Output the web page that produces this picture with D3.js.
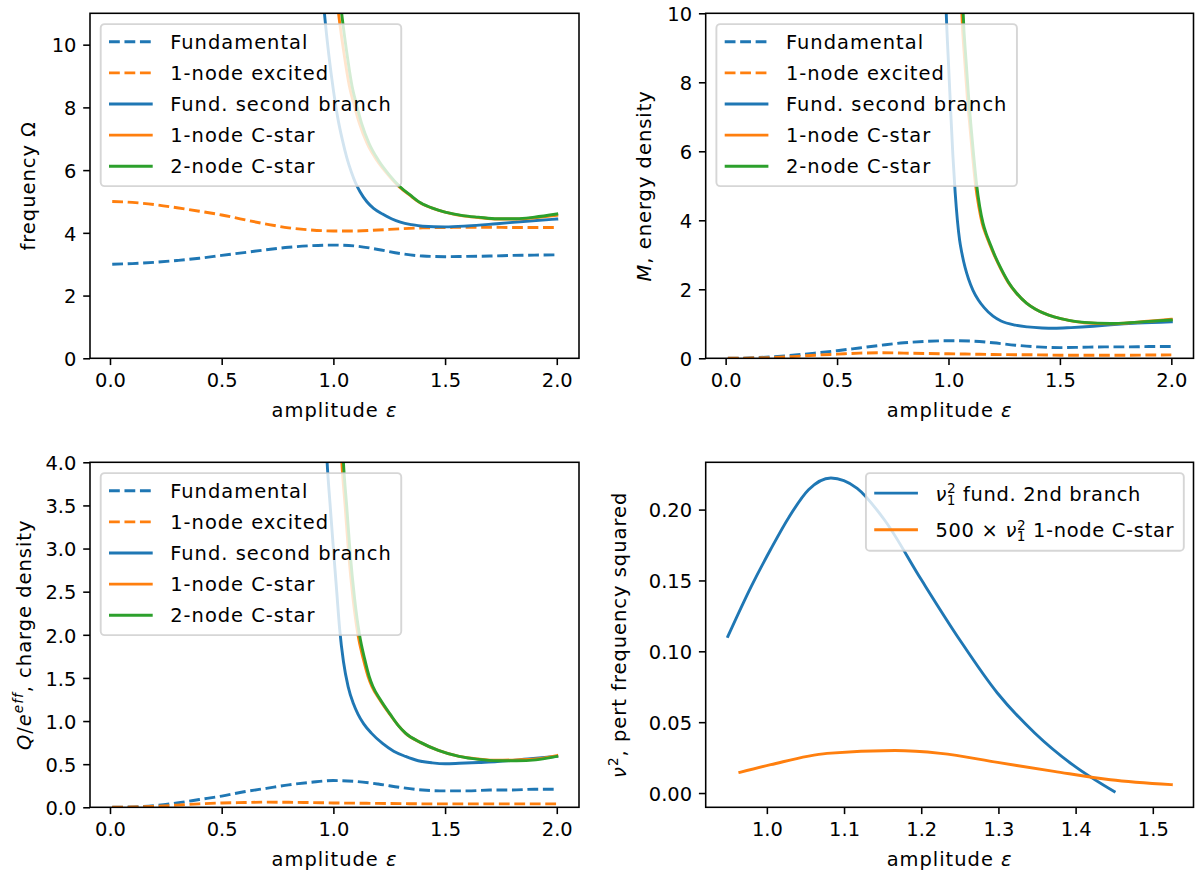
<!DOCTYPE html>
<html><head><meta charset="utf-8">
<script src="https://cdn.jsdelivr.net/npm/d3@7"></script>
<style>
body{margin:0;background:#fff}
svg{display:block}
text{font-family:"DejaVu Sans",sans-serif;fill:#000}
</style>
</head><body>
<svg id="chart" width="1195" height="871"></svg>
<script>
// ---------------- data ----------------
const epsGrid = [0.01,0.1,0.2,0.3,0.4,0.5,0.6,0.7,0.8,0.9,1.0,1.1,1.2,1.3,1.4,1.5,1.6,1.7,1.8,1.9,2.0];

const freqFund = [3.00,3.02,3.06,3.12,3.19,3.28,3.37,3.46,3.54,3.59,3.61,3.58,3.47,3.34,3.26,3.24,3.25,3.26,3.28,3.29,3.30];
const freqExc  = [5.00,4.97,4.90,4.80,4.69,4.57,4.42,4.28,4.16,4.09,4.06,4.06,4.09,4.13,4.16,4.17,4.18,4.18,4.17,4.17,4.17];
const freqBranchX = [0.955,0.960,0.980,1.000,1.020,1.040,1.060,1.080,1.100,1.120,1.150,1.180,1.220,1.260,1.300,1.350,1.400,1.500,1.600,1.730,1.850,2.000];
const freqBranchY = [11.4,11.0,9.65,8.55,7.65,6.97,6.40,5.95,5.58,5.30,4.99,4.78,4.60,4.45,4.34,4.26,4.21,4.19,4.22,4.29,4.36,4.44];
const freqCstar1X = [1.020,1.023,1.047,1.071,1.094,1.116,1.151,1.196,1.245,1.293,1.342,1.390,1.449,1.500,1.580,1.649,1.734,1.820,1.900,2.000];
const freqCstar1Y = [11.2,11.01,9.75,8.70,8.05,7.50,6.85,6.30,5.85,5.48,5.20,4.95,4.77,4.66,4.54,4.49,4.44,4.44,4.48,4.56];
const freqCstar2X = [1.034,1.037,1.060,1.083,1.105,1.126,1.160,1.203,1.250,1.297,1.345,1.392,1.450,1.500,1.580,1.649,1.734,1.820,1.900,2.000];
const freqCstar2Y = [11.2,11.01,9.75,8.70,8.05,7.50,6.85,6.30,5.85,5.48,5.20,4.95,4.77,4.66,4.55,4.50,4.45,4.45,4.50,4.60];

const massFund = [0.00,0.01,0.04,0.09,0.15,0.22,0.30,0.38,0.45,0.49,0.51,0.50,0.45,0.38,0.33,0.31,0.32,0.33,0.33,0.34,0.34];
const massExc  = [0.00,0.005,0.02,0.05,0.09,0.12,0.15,0.16,0.15,0.14,0.13,0.12,0.11,0.105,0.10,0.09,0.09,0.09,0.09,0.095,0.10];
const massBranchX = [0.988,0.990,1.000,1.010,1.020,1.030,1.040,1.050,1.060,1.075,1.090,1.110,1.134,1.160,1.200,1.236,1.300,1.355,1.420,1.474,1.550,1.650,1.728,1.850,2.000];
const massBranchY = [10.4,10.0,8.55,7.15,5.85,4.80,4.00,3.42,3.05,2.62,2.30,1.97,1.69,1.47,1.22,1.08,0.96,0.91,0.88,0.87,0.89,0.93,0.97,1.02,1.06];
const massCstar1X = [1.058,1.060,1.072,1.084,1.095,1.107,1.121,1.136,1.151,1.167,1.182,1.208,1.234,1.268,1.303,1.350,1.389,1.430,1.474,1.540,1.610,1.728,1.850,2.000];
const massCstar1Y = [10.4,10.0,8.70,7.60,6.80,5.95,5.05,4.40,3.92,3.60,3.35,2.95,2.60,2.20,1.90,1.60,1.43,1.30,1.20,1.10,1.03,1.00,1.05,1.13];
const massCstar2X = [1.064,1.066,1.078,1.090,1.100,1.112,1.126,1.140,1.155,1.170,1.185,1.210,1.236,1.270,1.304,1.350,1.389,1.430,1.474,1.540,1.610,1.728,1.850,2.000];
const massCstar2Y = [10.4,10.0,8.70,7.60,6.80,5.95,5.05,4.40,3.92,3.60,3.35,2.95,2.60,2.20,1.90,1.60,1.43,1.30,1.20,1.10,1.04,1.01,1.05,1.11];

const chargeFund = [0.00,0.005,0.02,0.05,0.09,0.13,0.18,0.22,0.26,0.29,0.31,0.30,0.27,0.23,0.20,0.19,0.19,0.20,0.20,0.21,0.21];
const chargeExc  = [0.00,0.003,0.01,0.025,0.04,0.05,0.055,0.06,0.058,0.055,0.05,0.048,0.045,0.043,0.04,0.04,0.04,0.04,0.04,0.04,0.04];
const chargeBranchX = [0.970,0.972,0.985,1.000,1.015,1.028,1.045,1.066,1.090,1.110,1.135,1.170,1.220,1.270,1.323,1.380,1.443,1.500,1.563,1.650,1.734,1.870,2.000];
const chargeBranchY = [4.1,4.0,3.52,3.00,2.50,2.07,1.69,1.40,1.20,1.08,0.97,0.86,0.74,0.65,0.59,0.54,0.515,0.505,0.51,0.52,0.53,0.56,0.59];
const chargeCstar1X = [1.036,1.038,1.053,1.068,1.088,1.110,1.134,1.155,1.173,1.207,1.252,1.290,1.322,1.391,1.470,1.563,1.650,1.734,1.820,1.906,2.000];
const chargeCstar1Y = [4.1,4.0,3.48,2.95,2.42,2.00,1.72,1.52,1.40,1.25,1.08,0.95,0.86,0.75,0.66,0.59,0.56,0.545,0.55,0.56,0.60];
const chargeCstar2X = [1.043,1.045,1.060,1.075,1.095,1.117,1.140,1.160,1.177,1.210,1.254,1.290,1.323,1.392,1.470,1.563,1.650,1.734,1.820,1.906,2.000];
const chargeCstar2Y = [4.1,4.0,3.48,2.95,2.42,2.00,1.72,1.52,1.40,1.25,1.08,0.95,0.86,0.75,0.66,0.59,0.555,0.54,0.54,0.55,0.59];

const nuBranchX = [0.9495,0.980,1.005,1.029,1.054,1.083,1.117,1.152,1.2,1.25,1.2986,1.347,1.396,1.45];
const nuBranchY = [0.1105,0.146,0.172,0.195,0.214,0.2223,0.215,0.193,0.1506,0.108,0.0706,0.0424,0.020,0.001];
const nuCstarX = [0.965,1.005,1.078,1.166,1.225,1.299,1.372,1.445,1.524];
const nuCstarY = [0.0146,0.020,0.028,0.030,0.028,0.0216,0.0153,0.0094,0.0059];

const epsTicks = [0,0.5,1.0,1.5,2.0];
const freqTicks = [0,2,4,6,8,10];
const massTicks = [0,2,4,6,8,10];
const chargeTicks = [0,0.5,1.0,1.5,2.0,2.5,3.0,3.5,4.0];
const nuTicks = [0,0.05,0.10,0.15,0.20];
const nuXTicks = [1.0,1.1,1.2,1.3,1.4,1.5];

const seriesLabels = ["Fundamental","1-node excited","Fund. second branch","1-node C-star","2-node C-star"];
const nuLabels = [
  [{t:"ν",i:1},{t:"2",sup:1},{t:"1",sub:1},{t:" fund. 2nd branch"}],
  [{t:"500 × "},{t:"ν",i:1},{t:"2",sup:1},{t:"1",sub:1},{t:" 1-node C-star"}]
];
const xLabel = [{t:"amplitude "},{t:"ε",i:1}];
const yLabels = [
  [{t:"frequency Ω"}],
  [{t:"M",i:1},{t:", energy density"}],
  [{t:"Q",i:1},{t:"/"},{t:"e",i:1},{t:"eff",i:1,sup:1},{t:", charge density"}],
  [{t:"ν",i:1},{t:"2",sup:1},{t:", pert frequency squared"}]
];

// ---------------- rendering ----------------
const C = {blue:"#1f77b4", orange:"#ff7f0e", green:"#2ca02c"};
const FS = 19.44, LW = 2.9, DASH = "10.8,4.67", LS = "1px";
const svg = d3.select("#chart");
const zip = (xs, ys) => xs.map((x,i)=>[x, ys[i]]);
function padExtent(arrs){
  const all = arrs.flat();
  const lo = d3.min(all), hi = d3.max(all), p = (hi-lo)*0.05;
  return [lo-p, hi+p];
}

function richText(sel, parts){
  let shifted = 0;
  parts.forEach(p=>{
    const ts = sel.append("tspan").text(p.t);
    if(p.i) ts.attr("font-style","italic");
    if(p.sup){
      ts.attr("font-size", FS*0.7).attr("dy", -7.7 - shifted); shifted = -7.7;
    } else if(p.sub){
      const w = 0.636*FS*0.7 + 1;
      ts.attr("font-size", FS*0.7).attr("dx", -w).attr("dy", 11.7); shifted += 11.7;
    } else {
      if(shifted !== 0){ ts.attr("dy", -shifted); shifted = 0; }
    }
  });
  return sel;
}

let clipId = 0;
function panel(cfg){
  const g = svg.append("g");
  const xs = d3.scaleLinear().domain(cfg.xdom).range([cfg.left, cfg.right]);
  const ys = d3.scaleLinear().domain(cfg.ydom).range([cfg.bottom, cfg.top]);
  const id = "clip"+(clipId++);
  svg.append("clipPath").attr("id",id).append("rect")
    .attr("x",cfg.left).attr("y",cfg.top).attr("width",cfg.right-cfg.left).attr("height",cfg.bottom-cfg.top);
  const line = d3.line().x(d=>xs(d[0])).y(d=>ys(d[1])).curve(d3.curveMonotoneX);
  const lg = g.append("g").attr("clip-path",`url(#${id})`);
  cfg.series.forEach(s=>{
    lg.append("path").attr("d", line(s.pts)).attr("fill","none")
      .attr("stroke", s.color).attr("stroke-width", LW)
      .attr("stroke-dasharray", s.dash ? DASH : null).attr("stroke-linecap", s.dash?"butt":"square")
      .attr("stroke-linejoin","round");
  });
  // axes
  const ax = g.append("g").attr("transform",`translate(0,${cfg.bottom})`)
    .call(d3.axisBottom(xs).tickValues(cfg.xticks).tickFormat(d3.format(".1f")).tickSize(6.8).tickPadding(6.8).tickSizeOuter(0));
  ax.select(".domain").remove();
  ax.selectAll(".tick line").attr("stroke","#000").attr("stroke-width",1.56);
  ax.selectAll("text").attr("font-size",FS).attr("font-family","DejaVu Sans").attr("dy","0.9em").attr("y",6.8+6.8-2.5);
  const ay = g.append("g").attr("transform",`translate(${cfg.left},0)`)
    .call(d3.axisLeft(ys).tickValues(cfg.yticks).tickFormat(cfg.yfmt).tickSize(6.8).tickPadding(6.8).tickSizeOuter(0));
  ay.select(".domain").remove();
  ay.selectAll(".tick line").attr("stroke","#000").attr("stroke-width",1.56);
  ay.selectAll("text").attr("font-size",FS).attr("font-family","DejaVu Sans").attr("dy","0.37em");
  ax.attr("font-family",null); ay.attr("font-family",null);
  // frame
  g.append("rect").attr("x",cfg.left).attr("y",cfg.top).attr("width",cfg.right-cfg.left).attr("height",cfg.bottom-cfg.top)
    .attr("fill","none").attr("stroke","#000").attr("stroke-width",1.56);
  // labels
  richText(g.append("text").attr("x",(cfg.left+cfg.right)/2).attr("y",cfg.bottom+58.4)
    .attr("text-anchor","middle").attr("font-size",FS).attr("letter-spacing",LS), xLabel);
  const cy = (cfg.top+cfg.bottom)/2;
  richText(g.append("text").attr("transform",`translate(${cfg.ylabelX},${cy}) rotate(-90)`)
    .attr("text-anchor","middle").attr("font-size",FS).attr("letter-spacing",LS), cfg.ylabel);
  // legend
  const L = g.append("g");
  const box = L.append("rect");
  const texts = [];
  cfg.legend.forEach((e,i)=>{
    const t = L.append("text").attr("font-size",FS).attr("letter-spacing",cfg.legendLS || LS);
    if(typeof e.label === "string") t.text(e.label); else richText(t, e.label);
    texts.push(t);
  });
  const maxLen = d3.max(texts, t=>t.node().getBBox().width);
  const w = 69.5 + maxLen + 9.5;
  const h = cfg.legendRowH*cfg.legend.length + cfg.legendPad;
  const lx = cfg.legendRight ? cfg.right - 9.7 - w : cfg.left + 10.7;
  const ly = cfg.top + 10.8;
  box.attr("x",lx).attr("y",ly).attr("width",w).attr("height",h).attr("rx",3.9)
    .attr("fill","rgba(255,255,255,0.8)").attr("stroke","rgba(204,204,204,0.8)").attr("stroke-width",1.9);
  cfg.legend.forEach((e,i)=>{
    const yc = ly + cfg.legendFirst + i*cfg.legendRowH;
    L.append("line").attr("x1",lx+8.3).attr("x2",lx+52).attr("y1",yc).attr("y2",yc)
      .attr("stroke",e.color).attr("stroke-width",LW).attr("stroke-dasharray",e.dash?DASH:null);
    texts[i].attr("x",lx+69.5).attr("y",yc+cfg.legendBase);
  });
}

const epsDom = padExtent([epsGrid]);
const styles = [
  {color:C.blue, dash:true},{color:C.orange, dash:true},
  {color:C.blue},{color:C.orange},{color:C.green}
];
const legend5 = seriesLabels.map((l,i)=>({label:l, ...styles[i]}));
const common = {xdom:epsDom, xticks:epsTicks, legend:legend5, legendRowH:31.1, legendFirst:17.7, legendPad:6.5, legendBase:7};

panel({...common, left:90, right:579, top:13.3, bottom:358.3, ydom:[0,11], yticks:freqTicks, yfmt:d3.format("d"),
  ylabel:yLabels[0], ylabelX:35,
  series:[
    {pts:zip(epsGrid,freqFund),...styles[0]},{pts:zip(epsGrid,freqExc),...styles[1]},
    {pts:zip(freqBranchX,freqBranchY),...styles[2]},{pts:zip(freqCstar1X,freqCstar1Y),...styles[3]},
    {pts:zip(freqCstar2X,freqCstar2Y),...styles[4]}]});

panel({...common, left:705.7, right:1193.5, top:13.3, bottom:358.3, ydom:[0,10], yticks:massTicks, yfmt:d3.format("d"),
  ylabel:yLabels[1], ylabelX:651,
  series:[
    {pts:zip(epsGrid,massFund),...styles[0]},{pts:zip(epsGrid,massExc),...styles[1]},
    {pts:zip(massBranchX,massBranchY),...styles[2]},{pts:zip(massCstar1X,massCstar1Y),...styles[3]},
    {pts:zip(massCstar2X,massCstar2Y),...styles[4]}]});

panel({...common, left:90, right:579, top:462.3, bottom:807.3, ydom:[0,4], yticks:chargeTicks, yfmt:d3.format(".1f"),
  ylabel:yLabels[2], ylabelX:31,
  series:[
    {pts:zip(epsGrid,chargeFund),...styles[0]},{pts:zip(epsGrid,chargeExc),...styles[1]},
    {pts:zip(chargeBranchX,chargeBranchY),...styles[2]},{pts:zip(chargeCstar1X,chargeCstar1Y),...styles[3]},
    {pts:zip(chargeCstar2X,chargeCstar2Y),...styles[4]}]});

panel({left:705.7, right:1193.5, top:462.3, bottom:807.3,
  xdom:padExtent([nuBranchX,nuCstarX]), ydom:padExtent([nuBranchY,nuCstarY]),
  xticks:nuXTicks, yticks:nuTicks, yfmt:d3.format(".2f"),
  ylabel:yLabels[3], ylabelX:626,
  legend:[{label:nuLabels[0],color:C.blue},{label:nuLabels[1],color:C.orange}],
  legendRight:true, legendRowH:36.7, legendFirst:20, legendPad:4.3, legendBase:7.5, legendLS:"0.7px",
  series:[{pts:zip(nuBranchX,nuBranchY),color:C.blue},{pts:zip(nuCstarX,nuCstarY),color:C.orange}]});
</script>
</body></html>
